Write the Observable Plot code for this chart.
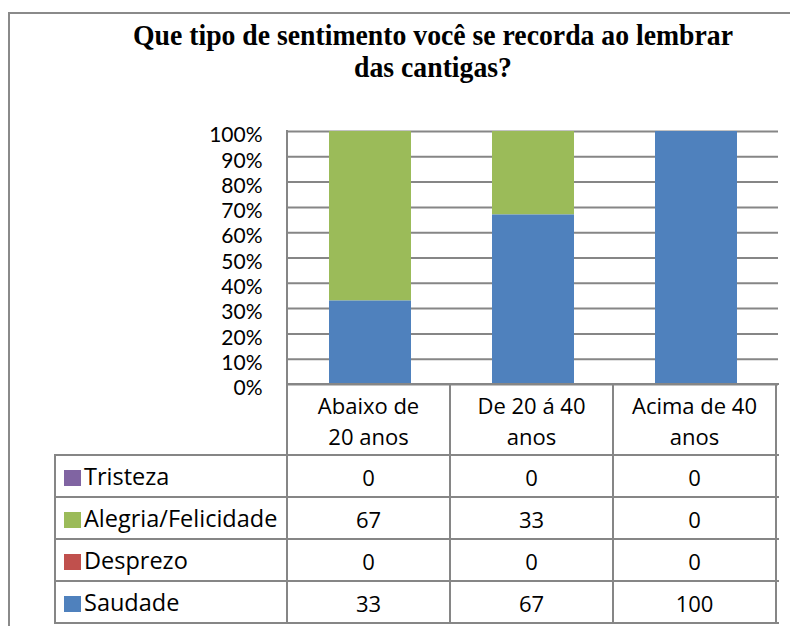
<!DOCTYPE html>
<html>
<head>
<meta charset="utf-8">
<script src="https://cdn.jsdelivr.net/npm/d3@7"></script>
<script src="https://cdn.jsdelivr.net/npm/@observablehq/plot@0.6"></script>
<style>
  body { margin: 0; background: #fff; }
  #wrap { position: relative; width: 790px; height: 626px; overflow: hidden; background: #fff; font-family: "Open Sans", sans-serif; color: #000; }
  #frame { position: absolute; left: 8px; top: 12px; width: 900px; height: 900px; border: 2px solid #8a8a8a; box-sizing: border-box; }
  .tline { position: absolute; left: 432.5px; white-space: nowrap; font-family: "Liberation Serif", "Times New Roman", serif; font-weight: bold; font-size: 29px; line-height: 29px; }
  #chart { position: absolute; left: 0; top: 0; }
  .ln { position: absolute; background: #868686; }
  .cell { position: absolute; font-size: 22px; line-height: 30px; white-space: pre; text-align: center; }
  .lbl { position: absolute; font-size: 23.5px; line-height: 30px; white-space: pre; }
  .sw { position: absolute; width: 17px; height: 16px; }
</style>
</head>
<body>
<div id="wrap">
  <div id="frame"></div>
  <div id="t1" class="tline" style="top:21px">Que tipo de sentimento você se recorda ao lembrar</div>
  <div id="t2" class="tline" style="top:53px">das cantigas?</div>
  <div id="chart"></div>
</div>
<script>
// ---- data ----
const categories = ["Abaixo de 20 anos", "De 20 á 40 anos", "Acima de 40 anos"];
const categoryLines = [["Abaixo de", "20 anos"], ["De 20 á 40", "anos"], ["Acima de 40", "anos"]];
const seriesNames = ["Tristeza", "Alegria/Felicidade", "Desprezo", "Saudade"]; // table order
const seriesColors = ["#8064A2", "#9BBB59", "#C0504D", "#4F81BD"];
const tristeza = [0, 0, 0];
const alegria = [67, 33, 0];
const desprezo = [0, 0, 0];
const saudade = [33, 67, 100];
const stackOrder = ["Saudade", "Desprezo", "Alegria/Felicidade", "Tristeza"]; // bottom to top
const yTickPercents = [0, 10, 20, 30, 40, 50, 60, 70, 80, 90, 100];

const seriesValues = [tristeza, alegria, desprezo, saudade];
const data = [];
seriesNames.forEach((s, i) => categories.forEach((c, j) => data.push({series: s, cat: c, value: seriesValues[i][j]})));
const yTicks = yTickPercents.map(v => v / 100);

// ---- title scaling ----
const t1 = document.getElementById("t1"), t2 = document.getElementById("t2");
const sx = 600 / t1.getBoundingClientRect().width;
[t1, t2].forEach(t => t.style.transform = `translateX(-50%) scaleX(${sx})`);

// ---- chart ----
const W = 790, H = 400, ML = 287, MR = 12, MT = 131, MB = 16;
const chart = Plot.plot({
  width: W, height: H,
  marginLeft: ML, marginRight: MR, marginTop: MT, marginBottom: MB,
  style: {background: "transparent", fontFamily: "Lato", fontSize: "21px", color: "#000", overflow: "visible"},
  x: {domain: categories, paddingInner: 0.5, paddingOuter: 0.25, axis: null},
  y: {domain: [0, 1], axis: null},
  color: {domain: seriesNames, range: seriesColors},
  marks: [
    Plot.gridY(yTicks, {stroke: "#868686", strokeOpacity: 1, strokeWidth: 2}),
    Plot.barY(data, {x: "cat", y: "value", fill: "series", order: stackOrder, offset: "normalize"}),
    Plot.axisY(yTicks, {tickSize: 0, tickPadding: 25, tickFormat: d => Math.round(d * 100) + "%", fontFamily: "Lato", fontSize: 21, dy: 4, label: null, fill: "#000"})
  ]
});
document.getElementById("chart").appendChild(chart);

// ---- data table (positions from the plot's scales) ----
const wrap = document.getElementById("wrap");
const xs = chart.scale("x"), ys = chart.scale("y"), cs = chart.scale("color");
const x0 = xs.range[0], x1 = xs.range[1], step = xs.step;
const yTop = ys.apply(1), yBase = ys.apply(0);
const headerH = 71, rowH = 42, tableLeft = 55;
const rowTops = seriesNames.map((_, i) => yBase + headerH + i * rowH);
const tableBottom = yBase + headerH + seriesNames.length * rowH;
const lw = 2;
function line(x, y, w, h) {
  const d = document.createElement("div");
  d.className = "ln";
  d.style.left = x + "px"; d.style.top = y + "px"; d.style.width = w + "px"; d.style.height = h + "px";
  wrap.appendChild(d);
}
// horizontal lines
line(x0 - 1, yBase - 1, x1 - x0 + 2, lw);
line(tableLeft - 1, yBase + headerH - 1, x1 - tableLeft + 2, lw);
rowTops.forEach((t, i) => line(tableLeft - 1, t + rowH - 1, x1 - tableLeft + 2, lw));
// vertical lines
line(x0 - 1, yTop - 1, lw, tableBottom - yTop + 2);
line(tableLeft - 1, yBase + headerH - 1, lw, tableBottom - yBase - headerH + 2);
categories.forEach((c, j) => line(x0 + (j + 1) * step - 1, yBase - 1, lw, tableBottom - yBase + 2));

// header labels
categoryLines.forEach((lines, j) => {
  lines.forEach((txt, k) => {
    const d = document.createElement("div");
    d.className = "cell";
    d.textContent = txt;
    d.style.left = (x0 + j * step) + "px";
    d.style.width = step + "px";
    d.style.top = (yBase + 6 + k * 31) + "px";
    wrap.appendChild(d);
  });
});
// rows
seriesNames.forEach((s, i) => {
  const t = rowTops[i];
  const sw = document.createElement("div");
  sw.className = "sw";
  sw.style.left = "64px"; sw.style.top = (t + 15) + "px";
  sw.style.background = cs.apply(s);
  wrap.appendChild(sw);
  const lb = document.createElement("div");
  lb.className = "lbl";
  lb.textContent = s;
  lb.style.left = "84px"; lb.style.top = (t + 6) + "px";
  wrap.appendChild(lb);
  seriesValues[i].forEach((v, j) => {
    const d = document.createElement("div");
    d.className = "cell";
    d.textContent = String(v);
    d.style.left = (x0 + j * step) + "px";
    d.style.width = step + "px";
    d.style.top = (t + 6.5) + "px";
    wrap.appendChild(d);
  });
});
</script>
</body>
</html>
